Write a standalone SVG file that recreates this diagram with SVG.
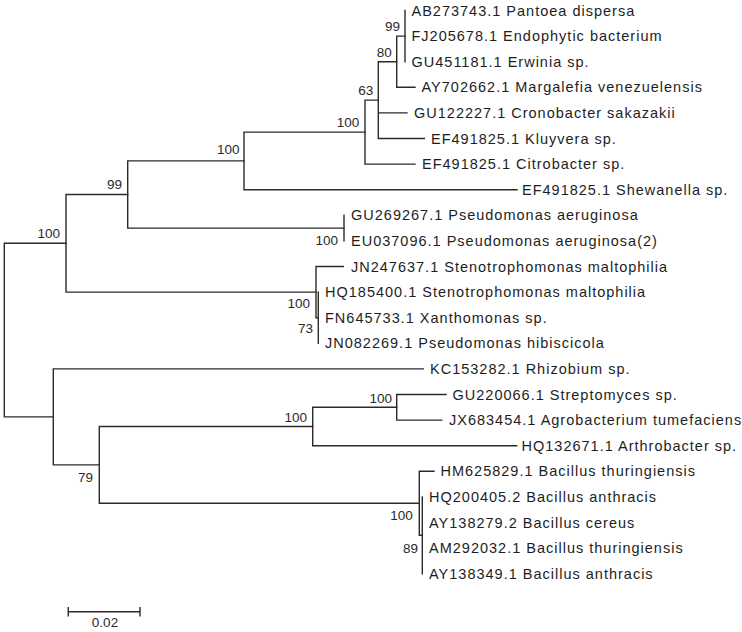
<svg xmlns="http://www.w3.org/2000/svg" width="742" height="632" viewBox="0 0 742 632">
<style>
.br{fill:none;stroke:#2a2a2a;stroke-width:1.4;stroke-linecap:square}
.lf{font-family:"Liberation Sans",Arial,sans-serif;font-size:14.5px;letter-spacing:1px;fill:#1e1e1e}
.bs{font-family:"Liberation Sans",Arial,sans-serif;font-size:13.5px;fill:#2a2a2a;text-anchor:end}
.sc{font-family:"Liberation Sans",Arial,sans-serif;font-size:13.5px;fill:#2a2a2a;text-anchor:middle}
</style>
<rect width="742" height="632" fill="#fff"/>
<g id="connectors">
<path class="br" d="M4.3 243.3V416.9M4.3 243.3H66M4.3 416.9H53.3"/>
<path class="br" d="M66 194.5V292.1M66 194.5H127.7M66 292.1H316"/>
<path class="br" d="M127.7 160.9V228.1M127.7 160.9H244M127.7 228.1H344"/>
<path class="br" d="M244 132.1V189.7M244 132.1H365M244 189.7H517"/>
<path class="br" d="M365 100.1V164.1M365 100.1H378.3M365 164.1H415"/>
<path class="br" d="M378.3 61.7V138.5M378.3 61.7H396.7M378.3 112.9H407M378.3 138.5H424.3"/>
<path class="br" d="M396.7 36.1V87.3M396.7 36.1H405M396.7 87.3H415"/>
<path class="br" d="M405 10.5V61.7"/>
<path class="br" d="M344 215.3V240.9"/>
<path class="br" d="M316 266.5V317.7M316 266.5H343.3M316 317.7H318.3"/>
<path class="br" d="M318.3 292.1V343.3"/>
<path class="br" d="M53.3 368.9V464.9M53.3 368.9H423.3M53.3 464.9H99.3"/>
<path class="br" d="M99.3 426.5V503.3M99.3 426.5H312.7M99.3 503.3H419.3"/>
<path class="br" d="M312.7 407.3V445.7M312.7 407.3H396.7M312.7 445.7H516.7"/>
<path class="br" d="M396.7 394.5V420.1M396.7 394.5H446M396.7 420.1H441.7"/>
<path class="br" d="M419.3 471.3V535.3M419.3 471.3H434M419.3 535.3H422.3"/>
<path class="br" d="M422.3 496.9V573.7"/>
</g>
<g id="leaf-AB273743"><text class="lf" x="411.5" y="15.5">AB273743.1 Pantoea dispersa</text></g>
<g id="leaf-FJ205678"><text class="lf" x="411.5" y="41.1">FJ205678.1 Endophytic bacterium</text></g>
<g id="leaf-GU451181"><text class="lf" x="411.5" y="66.7">GU451181.1 Erwinia sp.</text></g>
<g id="leaf-AY702662"><text class="lf" x="421.5" y="92.3">AY702662.1 Margalefia venezuelensis</text></g>
<g id="leaf-GU122227"><text class="lf" x="414" y="117.9">GU122227.1 Cronobacter sakazakii</text></g>
<g id="leaf-EF491825-k"><text class="lf" x="431" y="143.5">EF491825.1 Kluyvera sp.</text></g>
<g id="leaf-EF491825-c"><text class="lf" x="422" y="169.1">EF491825.1 Citrobacter sp.</text></g>
<g id="leaf-EF491825-s"><text class="lf" x="522" y="194.7">EF491825.1 Shewanella sp.</text></g>
<g id="leaf-GU269267"><text class="lf" x="351" y="220.3">GU269267.1 Pseudomonas aeruginosa</text></g>
<g id="leaf-EU037096"><text class="lf" x="351" y="245.9">EU037096.1 Pseudomonas aeruginosa(2)</text></g>
<g id="leaf-JN247637"><text class="lf" x="351" y="271.5">JN247637.1 Stenotrophomonas maltophilia</text></g>
<g id="leaf-HQ185400"><text class="lf" x="325" y="297.1">HQ185400.1 Stenotrophomonas maltophilia</text></g>
<g id="leaf-FN645733"><text class="lf" x="325" y="322.7">FN645733.1 Xanthomonas sp.</text></g>
<g id="leaf-JN082269"><text class="lf" x="325" y="348.3">JN082269.1 Pseudomonas hibiscicola</text></g>
<g id="leaf-KC153282"><text class="lf" x="430" y="373.9">KC153282.1 Rhizobium sp.</text></g>
<g id="leaf-GU220066"><text class="lf" x="452.5" y="399.5">GU220066.1 Streptomyces sp.</text></g>
<g id="leaf-JX683454"><text class="lf" x="449" y="425.1">JX683454.1 Agrobacterium tumefaciens</text></g>
<g id="leaf-HQ132671"><text class="lf" x="521.5" y="450.7">HQ132671.1 Arthrobacter sp.</text></g>
<g id="leaf-HM625829"><text class="lf" x="440.5" y="476.3">HM625829.1 Bacillus thuringiensis</text></g>
<g id="leaf-HQ200405"><text class="lf" x="429" y="501.9">HQ200405.2 Bacillus anthracis</text></g>
<g id="leaf-AY138279"><text class="lf" x="429" y="527.5">AY138279.2 Bacillus cereus</text></g>
<g id="leaf-AM292032"><text class="lf" x="429" y="553.1">AM292032.1 Bacillus thuringiensis</text></g>
<g id="leaf-AY138349"><text class="lf" x="429" y="578.7">AY138349.1 Bacillus anthracis</text></g>
<g id="bootstrap">
<text class="bs" x="400" y="30.8">99</text>
<text class="bs" x="391.7" y="56.5">80</text>
<text class="bs" x="373.3" y="94.8">63</text>
<text class="bs" x="359.3" y="126.5">100</text>
<text class="bs" x="239.5" y="153.8">100</text>
<text class="bs" x="122" y="189.3">99</text>
<text class="bs" x="60" y="238.1">100</text>
<text class="bs" x="338" y="244.8">100</text>
<text class="bs" x="310" y="307.8">100</text>
<text class="bs" x="313" y="332.8">73</text>
<text class="bs" x="392" y="402.8">100</text>
<text class="bs" x="307" y="421.8">100</text>
<text class="bs" x="93" y="481.8">79</text>
<text class="bs" x="412.7" y="519.8">100</text>
<text class="bs" x="418" y="552.8">89</text>
</g>
<g id="scale-bar">
<path class="br" d="M68.3 611.7H140M68.3 607.7V615.7M140 607.7V615.7"/>
<text class="sc" x="105" y="627">0.02</text>
</g>
</svg>
